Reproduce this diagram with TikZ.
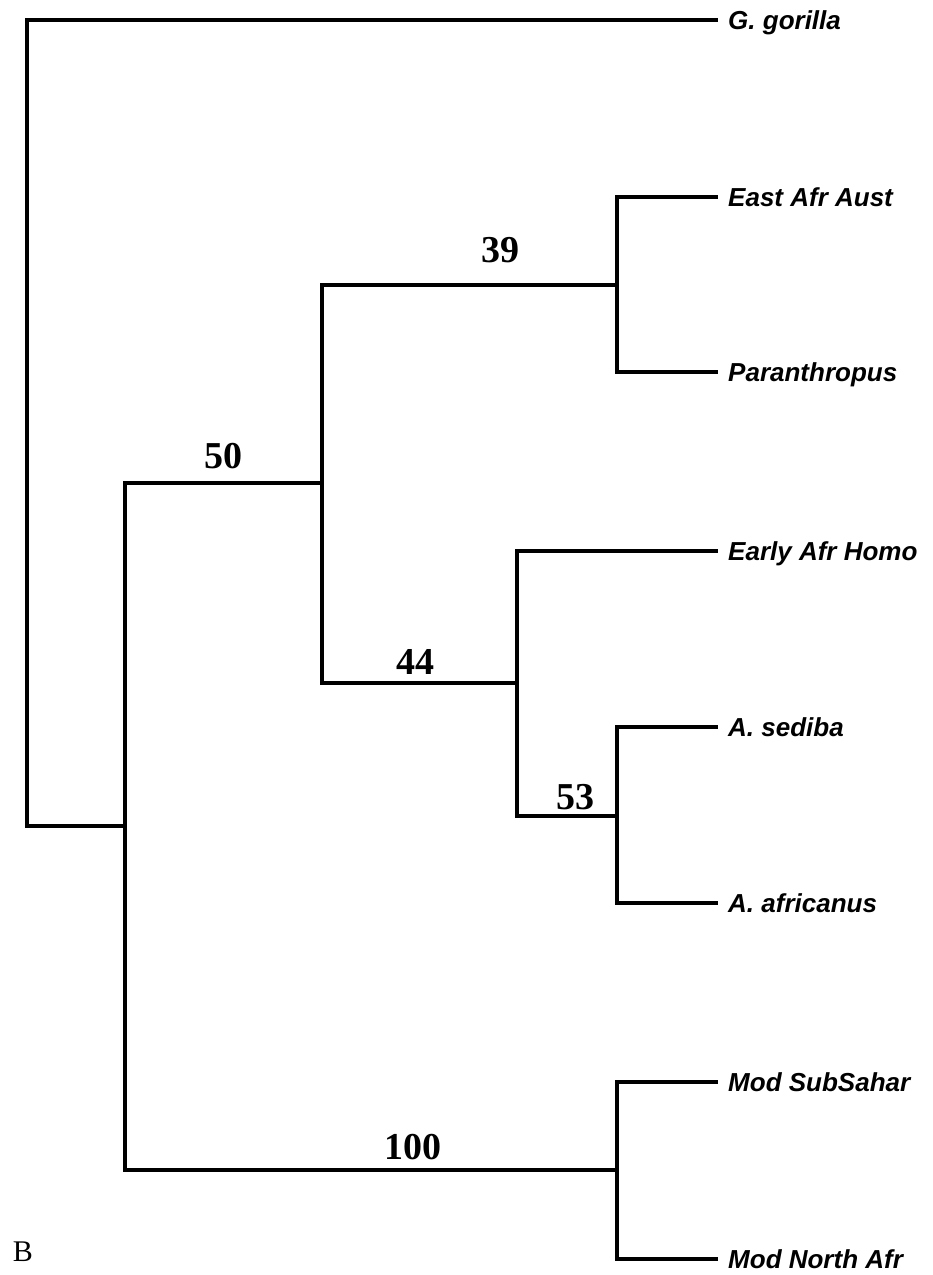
\documentclass[tikz,border=0pt]{standalone}
\usepackage{fontspec}
\setmainfont{Liberation Serif}
\newfontfamily\taxonfont{Liberation Sans}
\usepackage{tikz}
\usetikzlibrary{positioning, calc}
\definecolor{branchink}{HTML}{000000}

\begin{document}
\begin{tikzpicture}[x=1pt, y=-1pt]
  \tikzstyle{br}=[draw=branchink, line width=3.3pt, line cap=rect]
  \tikzstyle{taxon}=[anchor=west, inner xsep=12pt, inner ysep=0pt,
    text height=19pt, text depth=0pt,
    font=\taxonfont\bfseries\itshape\fontsize{26}{28}\selectfont]
  \tikzstyle{boot}=[inner sep=0pt,
    font=\bfseries\fontsize{38}{40}\selectfont]

  \useasboundingbox (0,0) rectangle (933,1275);

  % internal nodes
  \coordinate (root) at (27,826);
  \coordinate (hom)  at (125,826);
  \coordinate (fos)  at (322,483);
  \coordinate (aus)  at (617,285);
  \coordinate (hsa)  at (517,683);
  \coordinate (afr)  at (617,816);
  \coordinate (mod)  at (617,1170);

  % tips
  \node[taxon] (gor) at (716,20)   {G. gorilla};
  \node[taxon] (eaa) at (716,197)  {East Afr Aust};
  \node[taxon] (par) at (716,372)  {Paranthropus};
  \node[taxon] (eah) at (716,551)  {Early Afr Homo};
  \node[taxon] (sed) at (716,727)  {A. sediba};
  \node[taxon] (afc) at (716,903)  {A. africanus};
  \node[taxon] (mss) at (716,1082) {Mod SubSahar};
  \node[taxon] (mna) at (716,1259) {Mod North Afr};

  % branches
  \draw[br] (root) |- (gor.west);
  \draw[br] (root) -- (hom);
  \draw[br] (hom) |- (fos);
  \draw[br] (hom) |- (mod);
  \draw[br] (fos) |- (aus);
  \draw[br] (fos) |- (hsa);
  \draw[br] (aus) |- (eaa.west);
  \draw[br] (aus) |- (par.west);
  \draw[br] (hsa) |- (eah.west);
  \draw[br] (hsa) |- (afr);
  \draw[br] (afr) |- (sed.west);
  \draw[br] (afr) |- (afc.west);
  \draw[br] (mod) |- (mss.west);
  \draw[br] (mod) |- (mna.west);

  % support values
  \node[boot] (s50)  at (223,456)  {50};
  \node[boot] (s39)  at (500,250)  {39};
  \node[boot] (s44)  at (415,662)  {44};
  \node[boot] (s53)  at (575,797)  {53};
  \node[boot] (s100) at (413,1147) {100};

  \node[font=\fontsize{30}{32}\selectfont, inner sep=0pt] (pan) at (23,1252) {B};
\end{tikzpicture}
\end{document}
